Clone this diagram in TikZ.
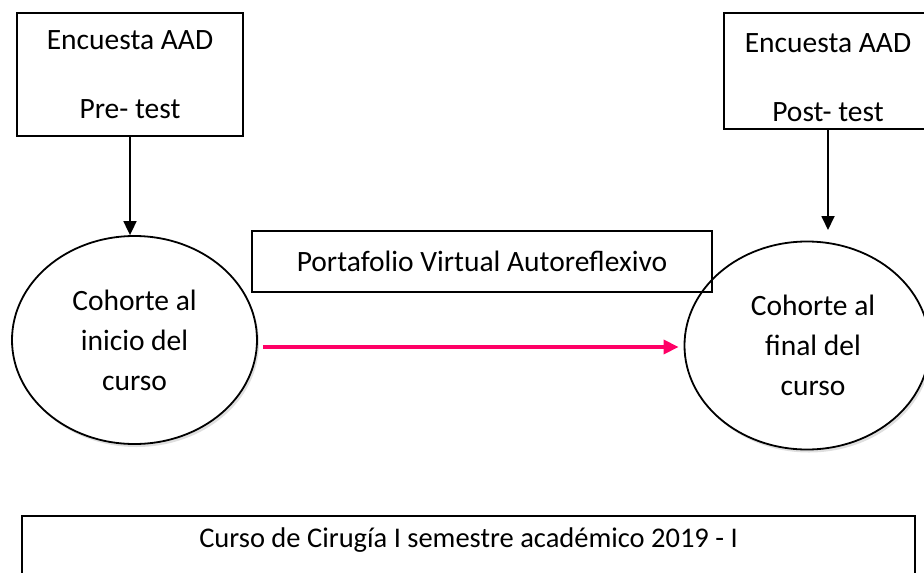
\documentclass[tikz,border=0pt]{standalone}
\usepackage{fontspec}
\setmainfont{Carlito}
\usepackage{tikz}
\usetikzlibrary{
	shapes.geometric,
	arrows.meta,
	shadows
}
\definecolor{rosa}{HTML}{FF0066}
\tikzset{
	x=1pt, y=1pt,
	every node/.style={
		font=\fontsize{29.5}{40}\selectfont,
		align=center,
		inner sep=0pt
	},
	caja/.style={
		draw, line width=1.8pt
	},
	cohorte/.style={
		draw, ellipse, line width=1.8pt, fill=white,
		minimum width=245pt, minimum height=208pt,
		drop shadow={opacity=0.25, shadow xshift=2pt, shadow yshift=-3pt}
	},
	flecha/.style={
		line width=1.8pt, -{Triangle[length=14pt,width=13pt]}
	},
	flecharosa/.style={
		draw=rosa, line width=3.5pt, -{Triangle[length=15pt,width=14pt]}
	}
}

\begin{document}
\begin{tikzpicture}
		\useasboundingbox (0,0) rectangle (924,-573);

		\node [caja,minimum width=226pt,minimum height=123pt] (pre)  at (130,-74.5) {Encuesta AAD\\[29pt]Pre- test};
		\node [caja,minimum width=208pt,minimum height=116pt] (post) at (828,-71) {};
		\node (posttxt) at (828,-77.5) {Encuesta AAD\\[29pt]Post- test};

		\node [cohorte] (inicio) at (134.5,-340) {Cohorte al\\inicio del\\curso};
		\node [cohorte] (final)  at (807,-345.5) {\hspace*{12pt}Cohorte al\\\hspace*{12pt}final del\\\hspace*{12pt}curso};

		\node [caja,minimum width=460pt,minimum height=61pt] (portafolio) at (482,-261.5) {Portafolio Virtual Autoreflexivo};

		\node [caja,line width=2.4pt,minimum width=893pt,minimum height=58pt,font=\fontsize{28.5}{34}\selectfont] (curso) at (468.5,-545) {\raisebox{14pt}{Curso de Cirugía I semestre académico 2019 - I}};

		\coordinate (finaltop) at (828,-230);

		% flechas
		\draw [flecha] (pre.south) -- (pre.south |- inicio.north);
		\draw [flecha] (post.south) -- (finaltop);
		\draw [flecharosa] ([shift={(5pt,-7pt)}]inicio.east) -- ([shift={(-5pt,-1.5pt)}]final.west);
	\end{tikzpicture}
\end{document}
